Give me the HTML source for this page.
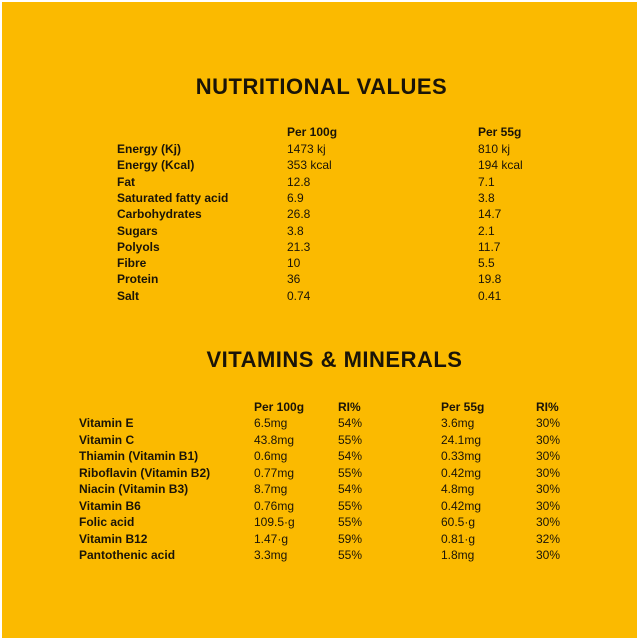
<!DOCTYPE html>
<html><head><style>
html,body{margin:0;padding:0;background:#fff}
#c{position:absolute;left:2px;top:2px;width:635px;height:636px;background:#FBBA00;font-family:"Liberation Sans",sans-serif;color:#1a1408}
.t{position:absolute;left:0;width:635px;text-align:center;font-weight:bold;font-size:22px;letter-spacing:0.5px}
.r{position:absolute;font-size:12px;line-height:14px;white-space:nowrap}
.b{font-weight:bold}
</style></head><body><div id="c">
<div class="t" style="top:72px;left:2px">NUTRITIONAL VALUES</div>
<div class="t" style="top:345px;left:15px">VITAMINS &amp; MINERALS</div>
</div>
<script>
var c=document.getElementById('c');
function put(x,y,t,b){var d=document.createElement('div');d.className='r'+(b?' b':'');d.style.left=(x-2)+'px';d.style.top=(y-9)+'px';d.textContent=t;c.appendChild(d);}
put(287,132,'Per 100g',1);put(478,132,'Per 55g',1);
var N=[['Energy (Kj)','1473 kj','810 kj'],['Energy (Kcal)','353 kcal','194 kcal'],['Fat','12.8','7.1'],['Saturated fatty acid','6.9','3.8'],['Carbohydrates','26.8','14.7'],['Sugars','3.8','2.1'],['Polyols','21.3','11.7'],['Fibre','10','5.5'],['Protein','36','19.8'],['Salt','0.74','0.41']];
N.forEach(function(r,i){var y=149+i*16.3;put(117,y,r[0],1);put(287,y,r[1]);put(478,y,r[2]);});
put(254,407,'Per 100g',1);put(338,407,'RI%',1);put(441,407,'Per 55g',1);put(536,407,'RI%',1);
var V=[['Vitamin E','6.5mg','54%','3.6mg','30%'],['Vitamin C','43.8mg','55%','24.1mg','30%'],['Thiamin (Vitamin B1)','0.6mg','54%','0.33mg','30%'],['Riboflavin (Vitamin B2)','0.77mg','55%','0.42mg','30%'],['Niacin (Vitamin B3)','8.7mg','54%','4.8mg','30%'],['Vitamin B6','0.76mg','55%','0.42mg','30%'],['Folic acid','109.5·g','55%','60.5·g','30%'],['Vitamin B12','1.47·g','59%','0.81·g','32%'],['Pantothenic acid','3.3mg','55%','1.8mg','30%']];
V.forEach(function(r,i){var y=423+i*16.5;put(79,y,r[0],1);put(254,y,r[1]);put(338,y,r[2]);put(441,y,r[3]);put(536,y,r[4]);});
</script>
</body></html>
